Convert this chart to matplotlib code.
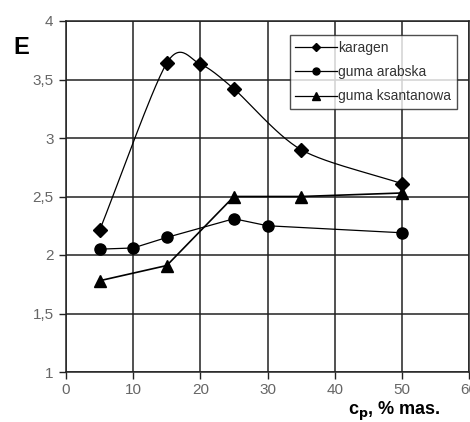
import numpy as np
import matplotlib
matplotlib.use("Agg")
import matplotlib.pyplot as plt

plt.rcParams['font.family'] = ['Liberation Sans', 'DejaVu Sans']

# data
x_karagen = [5, 15, 20, 25, 35, 50]
y_karagen = [2.21, 3.64, 3.63, 3.42, 2.90, 2.61]

x_arabska = [5, 10, 15, 25, 30, 50]
y_arabska = [2.05, 2.06, 2.15, 2.31, 2.25, 2.19]

x_ksant = [5, 15, 25, 35, 50]
y_ksant = [1.78, 1.91, 2.50, 2.50, 2.53]

labels = ["karagen", "guma arabska", "guma ksantanowa"]


def smooth(xs, ys, n=30, k=0.14):
    # Catmull-Rom style smoothing like the spreadsheet "smoothed line"
    xs = np.asarray(xs, float)
    ys = np.asarray(ys, float)
    px = np.concatenate([[2 * xs[0] - xs[1]], xs, [2 * xs[-1] - xs[-2]]])
    py = np.concatenate([[2 * ys[0] - ys[1]], ys, [2 * ys[-1] - ys[-2]]])
    outx, outy = [], []
    for i in range(1, len(px) - 2):
        p0 = np.array([px[i - 1], py[i - 1]])
        p1 = np.array([px[i], py[i]])
        p2 = np.array([px[i + 1], py[i + 1]])
        p3 = np.array([px[i + 2], py[i + 2]])
        c1 = p1 + (p2 - p0) * k
        c2 = p2 - (p3 - p1) * k
        t = np.linspace(0, 1, n)[:, None]
        pts = ((1 - t) ** 3) * p1 + 3 * ((1 - t) ** 2) * t * c1 + 3 * (1 - t) * t ** 2 * c2 + t ** 3 * p2
        outx.extend(pts[:, 0])
        outy.extend(pts[:, 1])
    return outx, outy


fig = plt.figure(figsize=(4.70, 4.22), dpi=100)
ax = fig.add_axes([66 / 470, 50 / 422, 403 / 470, 351 / 422])

sx, sy = smooth(x_karagen, y_karagen)
ax.plot(sx, sy, color='black', lw=0.9)
ax.plot(x_karagen, y_karagen, 'D', color='black', ms=7)
ax.plot([], [], '-D', color='black', lw=0.9, ms=4.5, label=labels[0])

ax.plot(x_arabska, y_arabska, '-o', color='black', lw=0.9, ms=8)
ax.plot([], [], '-o', color='black', lw=0.9, ms=5, label=labels[1])

ax.plot(x_ksant, y_ksant, '-^', color='black', lw=1.2, ms=9)
ax.plot([], [], '-^', color='black', lw=0.9, ms=5.5, label=labels[2])

ax.set_xlim(0, 60)
ax.set_ylim(1, 4)
ax.set_xticks(range(0, 61, 10))
ax.set_yticks([1, 1.5, 2, 2.5, 3, 3.5, 4])
ax.set_yticklabels(['1', '1,5', '2', '2,5', '3', '3,5', '4'])
ax.grid(True, color='#222222', lw=1.1)
for s in ax.spines.values():
    s.set_color('#222222')
    s.set_linewidth(1.1)
ax.tick_params(colors='#222222', labelcolor='#666666', labelsize=11, length=5, width=1)
ax.tick_params(axis='y', pad=4)
ax.tick_params(axis='x', pad=3)

leg = ax.legend(loc='upper right', bbox_to_anchor=(0.97, 0.96), fontsize=10,
                frameon=True, fancybox=False, edgecolor='#222222', handlelength=3.0,
                handletextpad=0.1, labelspacing=0.75, borderpad=0.4, borderaxespad=0)
leg.get_frame().set_linewidth(1.0)
for t in leg.get_texts():
    t.set_color('#333333')

fig.text(13 / 470, 1 - 47 / 422, 'E', fontsize=17, fontweight='bold', va='center', ha='left')
fig.text(348 / 470, 1 - 411 / 422, r'c$_\mathbf{p}$, % mas.', fontsize=13,
         fontweight='bold', va='center', ha='left')

fig.savefig('out.png', dpi=100)
